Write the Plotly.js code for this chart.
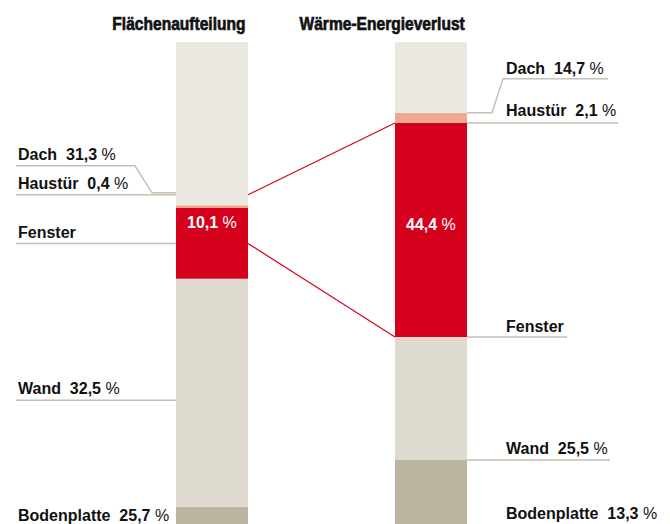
<!DOCTYPE html>
<html>
<head>
<meta charset="utf-8">
<script src="https://cdn.plot.ly/plotly-3.0.1.min.js"></script>
<style>
  html, body { margin: 0; padding: 0; background: #ffffff; }
  #chart { width: 670px; height: 524px; }
</style>
</head>
<body>
<div id="chart"></div>
<script>
// ---------- data ----------
const categories   = ['Bodenplatte', 'Wand', 'Fenster', 'Haustür', 'Dach'];
const flaeche      = [25.7, 32.5, 10.1, 0.4, 31.3];   // Flächenaufteilung (%)
const verlust      = [13.3, 25.5, 44.4, 2.1, 14.7];   // Wärme-Energieverlust (%)
const barTitles    = ['Flächenaufteilung', 'Wärme-Energieverlust'];
const segColors    = ['#bbb4a1', '#dedad0', '#d5001c', '#eba98f', '#ebe8e1'];

// ---------- helpers ----------
const num = v => v.toFixed(1).replace('.', ',');
const fmtHtml = v => '<b>' + num(v) + '</b>\u00a0%';
function cumBases(vals) { const b = []; let s = 0; vals.forEach(v => { b.push(s); s += v; }); return b; }
const baseL = cumBases(flaeche);
const baseR = cumBases(verlust);

const barW = 0.3288;           // bar width in x units
const half = barW / 2;
const pxX = p => (p - 212) / 219;          // layout helper: pixel column -> x units
const PXU = 4.82;                           // pixels per y2 unit (plot height / 100)
const off = (v, px) => v + px / PXU;        // shift a y2 value by px pixels upward

const traces = [];
categories.forEach((c, i) => {
  traces.push({
    type: 'bar', x: [0], y: [flaeche[i]], base: [baseL[i]], width: barW,
    marker: { color: segColors[i], line: { width: 0 } },
    xaxis: 'x', yaxis: 'y', hoverinfo: 'skip', name: c
  });
  traces.push({
    type: 'bar', x: [1], y: [verlust[i]], base: [baseR[i]], width: barW,
    marker: { color: segColors[i], line: { width: 0 } },
    xaxis: 'x', yaxis: 'y2', hoverinfo: 'skip', name: c
  });
});

const lineCol = '#c8c0b0';
const fontLbl = { family: 'Liberation Sans, Arial, sans-serif', size: 16, color: '#111111' };
const shapes = [];
const annotations = [];

const iB = 0, iW = 1, iF = 2, iH = 3, iD = 4;
const topL = i => baseL[i] + flaeche[i];
const topR = i => baseR[i] + verlust[i];
const labelText = (i, vals) => '<b>' + categories[i] + '</b>' + (i === iF ? '' : '\u00a0\u00a0' + fmtHtml(vals[i]));

// ---- left labels (proportional positions on y2) ----
const leftX0 = pxX(16), leftBarEdge = -half;
shapes.push({ type: 'path', xref: 'x', yref: 'y2',
  path: `M ${leftX0} ${off(baseL[iD], 27)} L ${pxX(135)} ${off(baseL[iD], 27)} L ${pxX(152)} ${baseL[iD]} L ${leftBarEdge} ${baseL[iD]}`,
  line: { color: lineCol, width: 1.5 } });
[iH, iF, iW].forEach(i => {
  shapes.push({ type: 'line', xref: 'x', yref: 'y2', x0: leftX0, x1: leftBarEdge,
    y0: baseL[i], y1: baseL[i], line: { color: lineCol, width: 1.5 } });
});
const leftLabelY = [[iD, baseL[iD], 38], [iH, baseL[iH], 11.5], [iF, baseL[iF], 10.5], [iW, baseL[iW], 12], [iB, baseL[iB], 9]];
leftLabelY.forEach(([i, y, s]) => {
  annotations.push({ xref: 'x', yref: 'y2', x: leftX0, y: y, yshift: s,
    xanchor: 'left', yanchor: 'middle', showarrow: false,
    text: labelText(i, flaeche), font: fontLbl });
});

// ---- right labels ----
const rightBarEdge = 1 + half, rightX0 = pxX(504);
shapes.push({ type: 'path', xref: 'x', yref: 'y2',
  path: `M ${rightBarEdge} ${baseR[iD]} L ${pxX(492)} ${baseR[iD]} L ${pxX(503)} ${off(baseR[iD], 34)} L ${pxX(608)} ${off(baseR[iD], 34)}`,
  line: { color: lineCol, width: 1.5 } });
[[iH, 618], [iF, 567], [iW, 610]].forEach(([i, end]) => {
  shapes.push({ type: 'line', xref: 'x', yref: 'y2', x0: rightBarEdge, x1: pxX(end),
    y0: baseR[i], y1: baseR[i], line: { color: lineCol, width: 1.5 } });
});
const rightLabelY = [[iD, baseR[iD], 44], [iH, baseR[iH], 12], [iF, baseR[iF], 10.7], [iW, baseR[iW], 11.3], [iB, baseR[iB], 11]];
rightLabelY.forEach(([i, y, s]) => {
  annotations.push({ xref: 'x', yref: 'y2', x: rightX0, y: y, yshift: s,
    xanchor: 'left', yanchor: 'middle', showarrow: false,
    text: labelText(i, verlust), font: fontLbl });
});

// ---- connectors (Fenster) ----
shapes.push({ type: 'line', xref: 'x', yref: 'y2', x0: half, x1: 1 - half,
  y0: topL(iF), y1: topR(iF), line: { color: '#d5001c', width: 1.2 } });
shapes.push({ type: 'line', xref: 'x', yref: 'y2', x0: half, x1: 1 - half,
  y0: baseL[iF], y1: baseR[iF], line: { color: '#d5001c', width: 1.2 } });

// ---- in-bar value labels ----
const inFont = { family: 'Liberation Sans, Arial, sans-serif', size: 16, color: '#ffffff' };
annotations.push({ xref: 'x', yref: 'paper', x: 0, y: (524 - 222.5) / 482, xanchor: 'center', yanchor: 'middle',
  showarrow: false, text: fmtHtml(flaeche[iF]), font: inFont });
annotations.push({ xref: 'x', yref: 'paper', x: 1, y: (524 - 224) / 482, xanchor: 'center', yanchor: 'middle',
  showarrow: false, text: fmtHtml(verlust[iF]), font: inFont });

// ---- titles ----
const titleFont = { family: 'Liberation Sans, Arial, sans-serif', size: 19, color: '#111111' };
const titleStart = annotations.length;
barTitles.forEach((t, k) => {
  annotations.push({ xref: 'x', yref: 'paper', x: k + half, y: 1, yshift: 19,
    xanchor: 'right', yanchor: 'middle', showarrow: false,
    text: '<b>' + t + '</b>', font: titleFont });
});

const layout = {
  width: 670, height: 524,
  margin: { l: 0, r: 0, t: 42, b: 0, pad: 0 },
  paper_bgcolor: '#ffffff', plot_bgcolor: '#ffffff',
  showlegend: false, barmode: 'overlay', hovermode: false,
  xaxis: { range: [-0.9680, 2.0913], visible: false, fixedrange: true },
  yaxis: { range: [23.23, 91.97], visible: false, fixedrange: true },
  yaxis2: { range: [0, 100], overlaying: 'y', visible: false, fixedrange: true },
  shapes: shapes,
  annotations: annotations
};

Plotly.newPlot('chart', traces, layout, { staticPlot: true, displayModeBar: false }).then(gd => {
  // condense the two title texts horizontally (narrow heavy-type look), keeping right edge fixed
  const groups = gd.querySelectorAll('.annotation');
  for (let k = 0; k < barTitles.length; k++) {
    const g = groups[titleStart + k];
    if (!g) continue;
    const txt = g.querySelector('text');
    if (!txt) continue;
    const bb = txt.getBBox();
    const R = bb.x + bb.width;
    txt.setAttribute('transform', `translate(${R},0) scale(0.82,1) translate(${-R},0)`);
    txt.style.stroke = '#111111';
    txt.style.strokeWidth = '0.7px';
  }
});
</script>
</body>
</html>
